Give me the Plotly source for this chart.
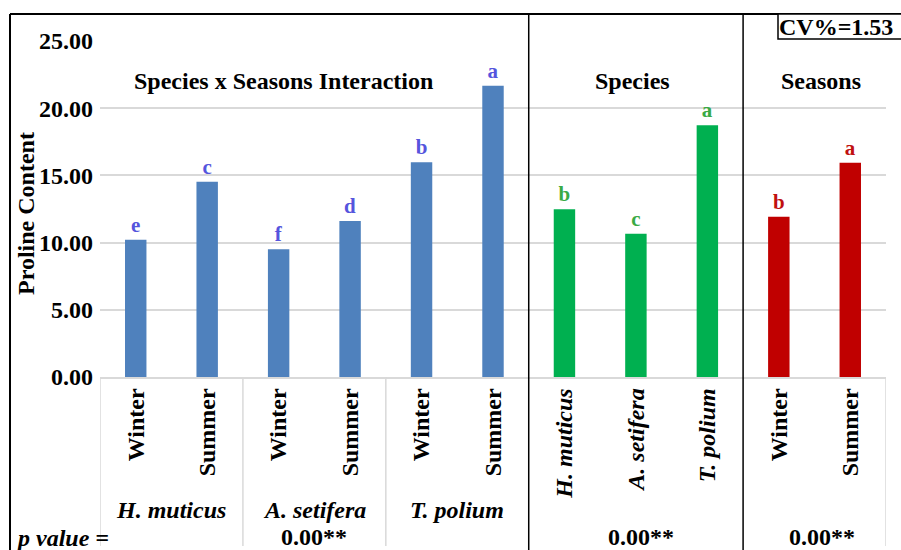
import plotly.graph_objects as go

# ---- data ----
interaction_labels = ["Winter", "Summer", "Winter", "Summer", "Winter", "Summer"]
interaction_values = [10.22, 14.53, 9.51, 11.61, 15.97, 21.67]
interaction_letters = ["e", "c", "f", "d", "b", "a"]
interaction_groups = ["H. muticus", "A. setifera", "T. polium"]

species_labels = ["H. muticus", "A. setifera", "T. polium"]
species_values = [12.48, 10.65, 18.74]
species_letters = ["b", "c", "a"]

season_labels = ["Winter", "Summer"]
season_values = [11.93, 15.95]
season_letters = ["b", "a"]

p_values = ["0.00**", "0.00**", "0.00**"]
cv_text = "CV%=1.53"
y_ticks = [0, 5, 10, 15, 20, 25]

FONT = "Liberation Serif"
W, H = 901, 550
L, R, T, B = 100, 15, 41, 173
PW, PH = W - L - R, H - T - B


def fx(p):
    return (p - L) / PW


def fy(p):
    return (H - B - p) / PH


n_i, n_s, n_z = len(interaction_values), len(species_values), len(season_values)
x_i = list(range(n_i))
x_s = list(range(n_i, n_i + n_s))
x_z = list(range(n_i + n_s, n_i + n_s + n_z))

fig = go.Figure()
for xs, vals, letters, color, tcolor in [
    (x_i, interaction_values, interaction_letters, "#4F81BD", "#5555DD"),
    (x_s, species_values, species_letters, "#00B050", "#3AAA45"),
    (x_z, season_values, season_letters, "#C00000", "#C01010"),
]:
    fig.add_trace(go.Bar(
        x=xs, y=vals, width=0.3, marker=dict(color=color, line=dict(width=0)),
        text=letters, textposition="outside", constraintext="none",
        textfont=dict(family=FONT, size=21, color=tcolor, weight="bold"),
        cliponaxis=False, showlegend=False, hoverinfo="y",
    ))

ticktext = ([f"<b>{t}</b>" for t in interaction_labels]
            + [f"<b><i>{t}</i></b>" for t in species_labels]
            + [f"<b>{t}</b>" for t in season_labels])

fig.update_layout(
    width=W, height=H, margin=dict(l=L, r=R, t=T, b=B),
    paper_bgcolor="white", plot_bgcolor="white",
    barmode="overlay",
    xaxis=dict(range=[-0.5, n_i + n_s + n_z - 0.5], tickmode="array",
               tickvals=x_i + x_s + x_z, ticktext=ticktext, tickangle=-90,
               tickfont=dict(family=FONT, size=24, color="black"),
               showgrid=False, zeroline=False, showline=True,
               linecolor="#D9D9D9", linewidth=1.5, ticks=""),
    yaxis=dict(range=[0, 25], tickvals=y_ticks, tickformat=".2f",
               tickfont=dict(family=FONT, size=24, color="black", weight="bold"),
               showgrid=True, gridcolor="#D9D9D9", gridwidth=1.5,
               zeroline=False, showline=False, ticks="", ticklabelstandoff=6),
)

shapes = []
black = dict(color="black", width=2)
# outer border
shapes.append(dict(type="line", xref="paper", yref="paper",
                   x0=fx(10), x1=fx(901), y0=fy(14), y1=fy(14), line=black))
shapes.append(dict(type="line", xref="paper", yref="paper",
                   x0=fx(10), x1=fx(10), y0=fy(14), y1=fy(550), line=black))
# section separators
for xv in [n_i - 0.5, n_i + n_s - 0.5]:
    shapes.append(dict(type="line", xref="x", yref="paper",
                       x0=xv, x1=xv, y0=fy(14), y1=fy(550), line=dict(color="black", width=1.5)))
# group dividers below axis
for xv in [-0.5, 1.5, 3.5, n_i + n_s + n_z - 0.5]:
    shapes.append(dict(type="line", xref="x", yref="paper",
                       x0=xv, x1=xv, y0=0, y1=fy(546), line=dict(color="#D9D9D9", width=1.5)))
# CV box
shapes.append(dict(type="rect", xref="paper", yref="paper",
                   x0=fx(778), x1=fx(906), y0=fy(14), y1=fy(39),
                   line=dict(color="black", width=1.5), fillcolor="white"))
fig.update_layout(shapes=shapes)

ann = []


def add(text, x, y, xref="paper", size=24, xanchor="center", yanchor="middle", angle=0):
    ann.append(dict(text=text, x=x, y=y, xref=xref, yref="paper", showarrow=False,
                    xanchor=xanchor, yanchor=yanchor, textangle=angle,
                    font=dict(family=FONT, size=size, color="black")))


add("<b>Species x Seasons Interaction</b>", fx(283), fy(81))
add("<b>Species</b>", fx(632), fy(81))
add("<b>Seasons</b>", fx(821), fy(81))
add(f"<b>{cv_text}</b>", fx(777), fy(27), size=24, xanchor="left")
add("<b>Proline Content</b>", fx(26), fy(214), angle=-90)
for i, g in enumerate(interaction_groups):
    add(f"<b><i>{g}</i></b>", 2 * i + 0.5, fy(510), xref="x")
add("<b><i>p value =</i></b>", fx(14), fy(538), xanchor="left")
add(f"<b>{p_values[0]}</b>", 2.5, fy(537), xref="x")
add(f"<b>{p_values[1]}</b>", fx(641), fy(537))
add(f"<b>{p_values[2]}</b>", fx(822), fy(537))
fig.update_layout(annotations=ann)

fig.write_html("out.html", config={"displayModeBar": False},
               post_script="document.body.style.margin='0';document.body.style.overflow='hidden';")
